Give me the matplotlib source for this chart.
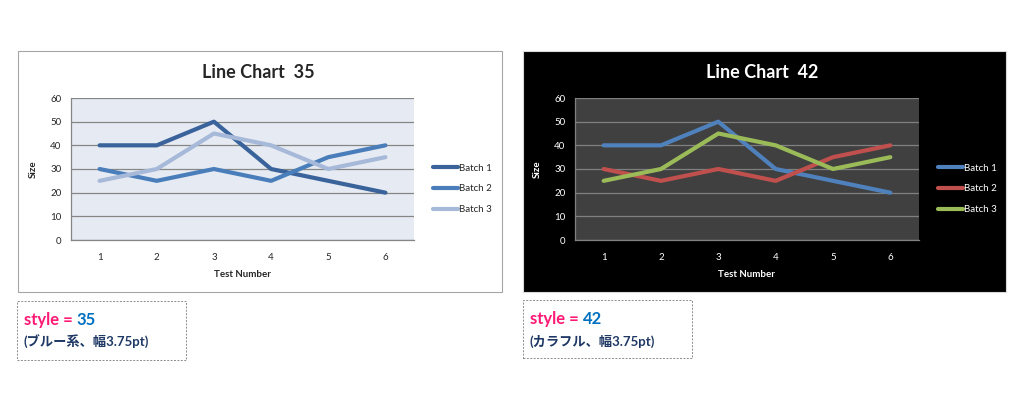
import numpy as np
import matplotlib.pyplot as plt
from matplotlib.patches import Rectangle

plt.rcParams['font.family'] = ['Lato', 'Noto Sans CJK JP', 'DejaVu Sans']

# Dados
tests = [1, 2, 3, 4, 5, 6]
batch1 = [40, 40, 50, 30, 25, 20]
batch2 = [30, 25, 30, 25, 35, 40]
batch3 = [25, 30, 45, 40, 30, 35]
series_names = ['Batch 1', 'Batch 2', 'Batch 3']
y_ticks = [0, 10, 20, 30, 40, 50, 60]

W, H = 1024, 394
fig = plt.figure(figsize=(W / 100, H / 100), dpi=100)
fig.patch.set_facecolor('white')


def fx(x):
    return x / W


def fy(y):
    return 1 - y / H


def rect_px(x0, y0, x1, y1, **kw):
    r = Rectangle((fx(x0), fy(y1)), fx(x1) - fx(x0), fy(y0) - fy(y1),
                  transform=fig.transFigure, zorder=-5, **kw)
    fig.patches.append(r)


def draw_chart(frame, plot, title, colors, dark):
    fx0, fy0, fx1, fy1 = frame
    if dark:
        rect_px(fx0, fy0, fx1, fy1, facecolor='black', edgecolor='#d9d9d9', lw=0.8)
        txt = 'white'
        pa_color = '#404040'
        grid_color = '#808080'
    else:
        rect_px(fx0, fy0, fx1, fy1, facecolor='white', edgecolor='#a6a6a6', lw=0.8)
        txt = '#262626'
        pa_color = '#e6ebf3'
        grid_color = '#868686'

    px0, py0, px1, py1 = plot
    ax = fig.add_axes([fx(px0), fy(py1), fx(px1) - fx(px0), fy(py0) - fy(py1)])
    ax.set_facecolor(pa_color)
    for s, name, c in zip([batch1, batch2, batch3], series_names, colors):
        ax.plot(tests, s, color=c, lw=3, label=name, solid_capstyle='round',
                solid_joinstyle='round', zorder=3)
    ax.set_xlim(0.5, 6.5)
    ax.set_ylim(0, 60)
    ax.set_yticks(y_ticks)
    ax.set_xticks(tests)
    ax.grid(axis='y', color=grid_color, lw=0.9)
    ax.set_axisbelow(True)
    for sp in ['top', 'right']:
        ax.spines[sp].set_visible(False)
    for sp in ['left', 'bottom']:
        ax.spines[sp].set_color(grid_color)
        ax.spines[sp].set_linewidth(0.9)
    ax.tick_params(length=0, labelsize=7, colors=txt, pad=7)
    ax.tick_params(axis='x', pad=9)
    ax.set_xlabel('Test Number', fontsize=7, fontweight='bold', color=txt, labelpad=6)
    ax.set_ylabel('Size', fontsize=7, fontweight='bold', color=txt, labelpad=9)

    cx = (fx0 + fx1) / 2 - 2
    fig.text(fx(cx), fy(72), title, ha='center', va='center', fontsize=13,
             fontweight='bold', color=txt)

    leg = ax.legend(loc='center left', bbox_to_anchor=(fx(px1 + 14), fy(189)),
                    bbox_transform=fig.transFigure, frameon=False, fontsize=7,
                    handlelength=2.6, handletextpad=0.05, labelspacing=1.2,
                    borderpad=0)
    for t in leg.get_texts():
        t.set_color(txt)
    return ax


draw_chart((18, 51, 502, 292), (71, 98, 414, 240), 'Line Chart  35',
           ['#3a639b', '#4a7ebb', '#a7b9d9'], False)
draw_chart((523, 51, 1006, 292), (575, 98, 919, 240), 'Line Chart  42',
           ['#4f81bd', '#c0504d', '#9bbb59'], True)

# Caixas de anotação
notes = [((17, 301, 186, 360), '35', '(ブルー系、幅3.75pt)'),
         ((523, 300, 692, 358), '42', '(カラフル、幅3.75pt)')]
for (x0, y0, x1, y1), num, sub in notes:
    rect_px(x0, y0, x1, y1, facecolor='white', edgecolor='#8c8c8c', lw=0.7,
            linestyle=(0, (2, 1.5)))
    t = fig.text(fx(x0 + 7), fy(y0 + 19), 'style = ', ha='left', va='center',
                 fontsize=12, fontweight='bold', color='#ff1a75')
    fig.canvas.draw()
    bb = t.get_window_extent()
    fig.text(bb.x1 / W, fy(y0 + 19), num, ha='left', va='center',
             fontsize=12, fontweight='bold', color='#0070c0')
    fig.text(fx(x0 + 7), fy(y0 + 41), sub, ha='left', va='center',
             fontsize=9.5, fontweight='bold', color='#1f3864')

fig.savefig('out.png', dpi=100)
